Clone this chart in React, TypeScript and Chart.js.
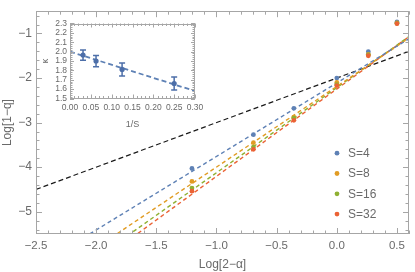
import React, { useEffect, useRef } from "react";
import { Chart, registerables } from "chart.js";

Chart.register(...registerables);

// ---------- main chart data ----------
const X_VALUES = [-1.204, -0.693, -0.357, 0, 0.262, 0.5];
const SERIES_LABELS = ["S=4", "S=8", "S=16", "S=32"];
const S4 = [-4.03, -3.27, -2.68, -2.0, -1.41, -0.74];
const S8 = [-4.32, -3.45, -2.88, -2.1, -1.47, -0.76];
const S16 = [-4.47, -3.55, -2.9, -2.15, -1.48, -0.77];
const S32 = [-4.54, -3.6, -2.95, -2.17, -1.5, -0.78];
const FIT_X = [-2.5, 0.6];
const FIT_S4 = [-6.235, -1.12];
const FIT_S8 = [-6.713, -1.102];
const FIT_S16 = [-6.99, -1.069];
const FIT_S32 = [-7.146, -1.07];
const REF_LINE = [-4.5, -1.4];
const X_TICKS = [-2.5, -2, -1.5, -1, -0.5, 0, 0.5];
const Y_TICKS = [-5, -4, -3, -2, -1];

// ---------- inset data ----------
const INV_S = [0.03125, 0.0625, 0.125, 0.25];
const KAPPA = [1.963, 1.9, 1.81, 1.66];
const KAPPA_ERR = [0.055, 0.06, 0.07, 0.07];
const KAPPA_FIT_X = [0, 0.3];
const KAPPA_FIT = [2.0, 1.58];
const INSET_X_TICKS = [0, 0.05, 0.1, 0.15, 0.2, 0.25, 0.3];
const INSET_Y_TICKS = [1.5, 1.6, 1.7, 1.8, 1.9, 2.0, 2.1, 2.2, 2.3];

const COLORS = ["#5E81B5", "#E19C24", "#8FB032", "#EB6235"];
const FRAME = "#a6a6a6";
const TEXT = "#6a6a6a";
const FONT = "'Liberation Sans', Arial, sans-serif";

const fmt = (v: number, d: number) => {
  const s = Math.abs(v).toFixed(d);
  return v < 0 ? "\u2212" + s : s;
};

function framePlugin(cfg: {
  xMajor: number;
  xMinor: number;
  yMajor: number;
  yMinor: number;
  major: number;
  minor: number;
}) {
  return {
    id: "frameTicks",
    afterDatasetsDraw(chart: any) {
      const { ctx, chartArea: a, scales } = chart;
      const xs = scales.x;
      const ys = scales.y;
      ctx.save();
      ctx.strokeStyle = FRAME;
      ctx.lineWidth = 1;
      ctx.beginPath();
      const isMajor = (v: number, step: number) =>
        Math.abs(v / step - Math.round(v / step)) < 1e-6;
      const k0 = Math.ceil(xs.min / cfg.xMinor - 1e-6);
      const k1 = Math.floor(xs.max / cfg.xMinor + 1e-6);
      for (let k = k0; k <= k1; k++) {
        const v = k * cfg.xMinor;
        const len = isMajor(v, cfg.xMajor) ? cfg.major : cfg.minor;
        const px = Math.round(xs.getPixelForValue(v)) + 0.5;
        ctx.moveTo(px, a.bottom);
        ctx.lineTo(px, a.bottom - len);
        ctx.moveTo(px, a.top);
        ctx.lineTo(px, a.top + len);
      }
      const j0 = Math.ceil(ys.min / cfg.yMinor - 1e-6);
      const j1 = Math.floor(ys.max / cfg.yMinor + 1e-6);
      for (let j = j0; j <= j1; j++) {
        const v = j * cfg.yMinor;
        const len = isMajor(v, cfg.yMajor) ? cfg.major : cfg.minor;
        const py = Math.round(ys.getPixelForValue(v)) + 0.5;
        ctx.moveTo(a.left, py);
        ctx.lineTo(a.left + len, py);
        ctx.moveTo(a.right, py);
        ctx.lineTo(a.right - len, py);
      }
      ctx.stroke();
      ctx.strokeRect(
        Math.round(a.left) + 0.5,
        Math.round(a.top) + 0.5,
        Math.round(a.right - a.left) - 1,
        Math.round(a.bottom - a.top) - 1
      );
      ctx.restore();
    },
  };
}

const legendPlugin = {
  id: "insideLegend",
  afterDraw(chart: any) {
    const { ctx, chartArea: a } = chart;
    ctx.save();
    const x0 = a.right - 72;
    const y0 = a.top + 142;
    SERIES_LABELS.forEach((lab, i) => {
      const y = y0 + i * 20.3;
      ctx.fillStyle = COLORS[i];
      ctx.beginPath();
      ctx.arc(x0, y, 2.4, 0, Math.PI * 2);
      ctx.fill();
      ctx.fillStyle = TEXT;
      ctx.font = `12px ${FONT}`;
      ctx.textAlign = "left";
      ctx.textBaseline = "middle";
      ctx.fillText(lab, x0 + 11, y + 0.5);
    });
    ctx.restore();
  },
};

const errorBarPlugin = {
  id: "errorBars",
  afterDatasetsDraw(chart: any) {
    const { ctx, scales } = chart;
    ctx.save();
    ctx.strokeStyle = "#4D6FA9";
    ctx.lineWidth = 1.5;
    INV_S.forEach((x, i) => {
      const px = scales.x.getPixelForValue(x);
      const yTop = scales.y.getPixelForValue(KAPPA[i] + KAPPA_ERR[i]);
      const yBot = scales.y.getPixelForValue(KAPPA[i] - KAPPA_ERR[i]);
      ctx.beginPath();
      ctx.moveTo(px, yTop);
      ctx.lineTo(px, yBot);
      ctx.moveTo(px - 3, yTop);
      ctx.lineTo(px + 3, yTop);
      ctx.moveTo(px - 3, yBot);
      ctx.lineTo(px + 3, yBot);
      ctx.stroke();
    });
    ctx.restore();
  },
};

function MainChart() {
  const ref = useRef<HTMLCanvasElement>(null);
  useEffect(() => {
    if (!ref.current) return;
    const series = [S4, S8, S16, S32];
    const fits = [FIT_S4, FIT_S8, FIT_S16, FIT_S32];
    const pointSets = series.map((arr, i) => ({
      type: "scatter" as const,
      label: SERIES_LABELS[i],
      data: X_VALUES.map((x, k) => ({ x, y: arr[k] })),
      backgroundColor: COLORS[i],
      borderColor: COLORS[i],
      pointRadius: 2.4,
      pointBorderWidth: 0,
      showLine: false,
    }));
    const fitSets = fits.map((arr, i) => ({
      type: "line" as const,
      label: "fit " + SERIES_LABELS[i],
      data: FIT_X.map((x, k) => ({ x, y: arr[k] })),
      borderColor: COLORS[i],
      borderWidth: 1.4,
      borderDash: [4, 3],
      pointRadius: 0,
      fill: false,
    }));
    const refSet = {
      type: "line" as const,
      label: "reference",
      data: FIT_X.map((x, k) => ({ x, y: REF_LINE[k] })),
      borderColor: "#1a1a1a",
      borderWidth: 1.2,
      borderDash: [5, 3],
      pointRadius: 0,
      fill: false,
    };
    const chart = new Chart(ref.current, {
      type: "scatter",
      data: { datasets: [...pointSets.slice().reverse(), ...fitSets, refSet] as any },
      options: {
        animation: false,
        responsive: false,
        devicePixelRatio: 1,
        layout: { padding: { left: 0, right: 6, top: 4, bottom: 0 } },
        plugins: { legend: { display: false }, tooltip: { enabled: false } },
        scales: {
          x: {
            type: "linear",
            min: -2.5,
            max: 0.6,
            grid: { display: false, drawTicks: false },
            border: { display: false },
            afterBuildTicks: (s: any) => {
              s.ticks = X_TICKS.map((v) => ({ value: v }));
            },
            afterFit: (s: any) => {
              s.height = 38;
            },
            ticks: {
              autoSkip: false,
              maxRotation: 0,
              padding: 5,
              color: TEXT,
              font: { size: 11.5, family: FONT },
              callback: (v: any) => fmt(Number(v), 1),
            },
            title: {
              display: true,
              text: "Log[2\u2212\u03B1]",
              color: TEXT,
              font: { size: 12, family: FONT },
              padding: { top: 0, bottom: 0 },
            },
          },
          y: {
            type: "linear",
            min: -5.5,
            max: -0.5,
            grid: { display: false, drawTicks: false },
            border: { display: false },
            afterBuildTicks: (s: any) => {
              s.ticks = Y_TICKS.map((v) => ({ value: v }));
            },
            afterFit: (s: any) => {
              s.width = 36;
            },
            ticks: {
              autoSkip: false,
              padding: 4,
              color: TEXT,
              font: { size: 12, family: FONT },
              callback: (v: any) => fmt(Number(v), 0),
            },
            title: {
              display: true,
              text: "Log[1\u2212q]",
              color: TEXT,
              font: { size: 12, family: FONT },
              padding: { top: 0, bottom: 0 },
            },
          },
        },
      },
      plugins: [
        framePlugin({ xMajor: 0.5, xMinor: 0.1, yMajor: 1, yMinor: 0.2, major: 6, minor: 3.5 }),
        legendPlugin,
      ],
    } as any);
    return () => chart.destroy();
  }, []);
  return <canvas ref={ref} width={415} height={272} style={{ position: "absolute", left: 0, top: 0 }} />;
}

function InsetChart() {
  const ref = useRef<HTMLCanvasElement>(null);
  useEffect(() => {
    if (!ref.current) return;
    const chart = new Chart(ref.current, {
      type: "scatter",
      data: {
        datasets: [
          {
            type: "scatter",
            label: "kappa",
            data: INV_S.map((x, k) => ({ x, y: KAPPA[k] })),
            backgroundColor: "#4D6FA9",
            pointRadius: 2.6,
            pointBorderWidth: 0,
          },
          {
            type: "line",
            label: "kappa fit",
            data: KAPPA_FIT_X.map((x, k) => ({ x, y: KAPPA_FIT[k] })),
            borderColor: "#5E81B5",
            borderWidth: 1.8,
            borderDash: [5, 3],
            pointRadius: 0,
            fill: false,
          },
        ] as any,
      },
      options: {
        animation: false,
        responsive: false,
        devicePixelRatio: 1,
        layout: { padding: { left: 0, right: 16, top: 19.5, bottom: 0 } },
        plugins: { legend: { display: false }, tooltip: { enabled: false } },
        scales: {
          x: {
            type: "linear",
            min: 0,
            max: 0.3,
            grid: { display: false, drawTicks: false },
            border: { display: false },
            afterBuildTicks: (s: any) => {
              s.ticks = INSET_X_TICKS.map((v) => ({ value: v }));
            },
            afterFit: (s: any) => {
              s.height = 31.5;
            },
            ticks: {
              autoSkip: false,
              maxRotation: 0,
              padding: 4,
              color: TEXT,
              font: { size: 8.5, family: FONT },
              callback: (v: any) => Number(v).toFixed(2),
            },
            title: {
              display: true,
              text: "1/S",
              color: TEXT,
              font: { size: 9, family: FONT },
              padding: { top: 0, bottom: 0 },
            },
          },
          y: {
            type: "linear",
            min: 1.5,
            max: 2.3,
            grid: { display: false, drawTicks: false },
            border: { display: false },
            afterBuildTicks: (s: any) => {
              s.ticks = INSET_Y_TICKS.map((v) => ({ value: v }));
            },
            afterFit: (s: any) => {
              s.width = 34;
            },
            ticks: {
              autoSkip: false,
              padding: 3,
              color: TEXT,
              font: { size: 8.5, family: FONT },
              callback: (v: any) => Number(v).toFixed(1),
            },
            title: {
              display: true,
              text: "\u03BA",
              color: TEXT,
              font: { size: 9, family: FONT },
              padding: { top: 4.6, bottom: 0 },
            },
          },
        },
      },
      plugins: [
        errorBarPlugin,
        framePlugin({ xMajor: 0.05, xMinor: 0.01, yMajor: 0.1, yMinor: 0.02, major: 4, minor: 2.5 }),
      ],
    } as any);
    return () => chart.destroy();
  }, []);
  return <canvas ref={ref} width={175} height={126} style={{ position: "absolute", left: 36, top: 4 }} />;
}

export default function App() {
  return (
    <div style={{ position: "fixed", left: 0, top: 0, width: 415, height: 272, background: "#fff" }}>
      <MainChart />
      <InsetChart />
    </div>
  );
}
